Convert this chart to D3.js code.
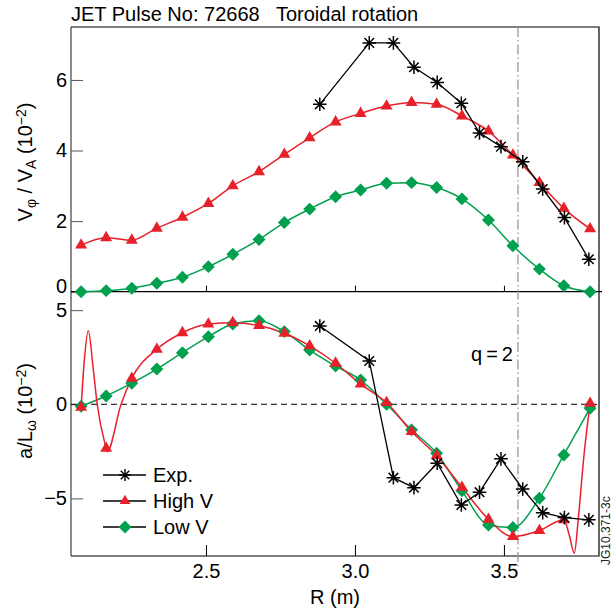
<!DOCTYPE html>
<html>
<head>
<meta charset="utf-8">
<script src="https://cdn.jsdelivr.net/npm/d3@7"></script>
<style>
  body { margin: 0; background: #fff; }
  svg { font-family: "Liberation Sans", Arial, Helvetica, sans-serif; }
</style>
</head>
<body>
<svg id="chart" width="611" height="613"></svg>
<script>
// model grid (m) and experimental radii (m)
const modelR = [2.081, 2.165, 2.251, 2.335, 2.421, 2.508, 2.590, 2.678, 2.763, 2.848, 2.935,
                3.019, 3.106, 3.190, 3.274, 3.359, 3.448, 3.530, 3.619, 3.701, 3.789];
const expR = [2.882, 3.048, 3.129, 3.198, 3.276, 3.357, 3.418, 3.490, 3.563, 3.630, 3.703, 3.785];

// top panel: V_phi / V_A (10^-2)
const topExp  = [5.31, 7.05, 7.05, 6.36, 5.93, 5.34, 4.50, 4.11, 3.68, 2.91, 2.10, 0.92];
const topHigh = [1.32, 1.53, 1.46, 1.80, 2.11, 2.50, 3.00, 3.40, 3.89, 4.36, 4.81,
                 5.05, 5.26, 5.36, 5.31, 4.98, 4.55, 3.87, 3.09, 2.36, 1.78];
const topLow  = [0.00, 0.03, 0.10, 0.24, 0.41, 0.71, 1.06, 1.48, 1.96, 2.34, 2.69,
                 2.88, 3.07, 3.09, 2.95, 2.63, 2.03, 1.30, 0.64, 0.17, 0.00];

// bottom panel: a/L_omega (10^-2)
const botExp  = [4.16, 2.30, -3.90, -4.43, -3.13, -5.35, -4.67, -2.90, -4.50, -5.76, -6.02, -6.14];
const botHigh = [-0.16, -2.34, 1.38, 2.92, 3.80, 4.26, 4.33, 4.18, 3.77, 3.10, 2.18,
                 1.07, 0.09, -1.45, -2.73, -4.41, -6.11, -7.03, -6.71, -6.14, 0.05];
const botLow  = [-0.10, 0.44, 1.12, 1.87, 2.74, 3.59, 4.26, 4.44, 3.86, 2.88, 2.03,
                 1.29, 0.00, -1.36, -2.60, -4.60, -6.41, -6.55, -4.99, -2.69, -0.21];
const botHighExtraR = [2.091, 2.105, 2.122, 2.135, 2.168, 2.215, 3.720, 3.736, 3.750, 3.768];
const botHighExtraV = [2.20, 3.91, 1.82, 0.00, -2.52, 0.00, -7.00, -7.91, -6.00, -2.80];

const xTicks = [2.5, 3.0, 3.5];
const topTicks = [0, 2, 4, 6];
const botTicks = [-5, 0, 5];
const qRadius = 3.547;

const red = "#e8202a", green = "#00a04f";

const svg = d3.select("#chart");
const padL = 71, padR = 599, padT = 27, padMid = 291.7, padB = 556;

const x = d3.scaleLinear().domain([2.047, 3.819]).range([padL, padR]);
const yTop = d3.scaleLinear().domain([0, 7.5]).range([padMid, padT]);
const yBot = d3.scaleLinear().domain([-8.06, 5.98]).range([padB, padMid]);

const pts = (rs, vs) => rs.map((r, i) => [r, vs[i]]);

// title
svg.append("text")
    .attr("x", padL).attr("y", 21)
    .style("font-size", "20px")
    .style("white-space", "pre")
    .text("JET Pulse No: 72668   Toroidal rotation");

// axes (ticks inside)
function yAxis(scale, ticks) {
    let g = svg.append("g")
        .attr("transform", `translate(${padL},0)`)
        .call(d3.axisLeft(scale).tickValues(ticks).tickSizeInner(-12).tickSizeOuter(0).tickPadding(4)
            .tickFormat(d => d < 0 ? "\u2212" + Math.abs(d) : d));
    g.select(".domain").remove();
    g.selectAll(".tick line").attr("stroke", "#555");
    g.selectAll(".tick text").style("font-size", "20px").attr("fill", "#000");
    return g;
}
let yt = yAxis(yTop, topTicks);
yt.selectAll(".tick text").filter(d => d === 0).attr("y", -6);
yAxis(yBot, botTicks);

let xb = svg.append("g")
    .attr("transform", `translate(0,${padB})`)
    .call(d3.axisBottom(x).tickValues(xTicks).tickSizeInner(-11).tickSizeOuter(0).tickPadding(8)
        .tickFormat(d3.format(".1f")));
xb.select(".domain").remove();
xb.selectAll(".tick text").style("font-size", "20px").attr("fill", "#000");

let xm = svg.append("g")
    .attr("transform", `translate(0,${padMid})`)
    .call(d3.axisBottom(x).tickValues(xTicks).tickSizeInner(-6).tickSizeOuter(0).tickFormat(""));
xm.select(".domain").remove();

// frame
svg.append("line").attr("x1", padL).attr("x2", padL).attr("y1", padT).attr("y2", padB)
    .attr("stroke", "#666").attr("stroke-width", 1.5);
svg.append("path")
    .attr("d", `M${padL},${padT}H${padR}V${padB}H${padL}M${padL},${padMid}H${padR + 3}`)
    .attr("fill", "none").attr("stroke", "#000").attr("stroke-width", 1.2);

// zero line, q=2 line
svg.append("line")
    .attr("x1", padL).attr("x2", padR).attr("y1", yBot(0)).attr("y2", yBot(0))
    .attr("stroke", "#000").attr("stroke-width", 1).attr("stroke-dasharray", "6,4");
svg.append("line")
    .attr("x1", x(qRadius)).attr("x2", x(qRadius)).attr("y1", padT).attr("y2", padB + 13)
    .attr("stroke", "#999").attr("stroke-width", 1.3).attr("stroke-dasharray", "10,3,1.5,3");
svg.append("text")
    .attr("x", 471).attr("y", 361)
    .style("font-size", "20px")
    .text("q\u2009=\u20092");

// markers
const starPath = (r) => [0, 45, 90, 135].map(a => {
    let c = Math.cos(a * Math.PI / 180) * r, s = Math.sin(a * Math.PI / 180) * r;
    return `M${-c},${-s}L${c},${s}`;
}).join("");
const triPath = d3.symbol(d3.symbolTriangle, 62)();
const diaPath = d3.symbol(d3.symbolSquare, 84)();

function drawMarkers(data, scale, kind) {
    let g = svg.append("g");
    let m = g.selectAll("path").data(data).join("path");
    if (kind === "star") {
        m.attr("d", starPath(6.8)).attr("stroke", "#000").attr("stroke-width", 1.5).attr("fill", "none")
            .attr("transform", d => `translate(${x(d[0])},${scale(d[1])})`);
    } else if (kind === "tri") {
        m.attr("d", triPath).attr("fill", red)
            .attr("transform", d => `translate(${x(d[0])},${scale(d[1])})`);
    } else {
        m.attr("d", diaPath).attr("fill", green)
            .attr("transform", d => `translate(${x(d[0])},${scale(d[1])}) rotate(45)`);
    }
}

function drawLine(data, scale, color, curve, width) {
    svg.append("path")
        .datum(data)
        .attr("fill", "none")
        .attr("stroke", color)
        .attr("stroke-width", width)
        .attr("d", d3.line().x(d => x(d[0])).y(d => scale(d[1])).curve(curve));
}

// top panel
drawLine(pts(modelR, topLow), yTop, green, d3.curveMonotoneX, 1.5);
drawLine(pts(modelR, topHigh), yTop, red, d3.curveMonotoneX, 1.5);
drawMarkers(pts(modelR, topLow), yTop, "dia");
drawMarkers(pts(modelR, topHigh), yTop, "tri");
drawLine(pts(expR, topExp), yTop, "#000", d3.curveLinear, 1.3);
drawMarkers(pts(expR, topExp), yTop, "star");

// bottom panel
let highFine = pts(modelR, botHigh).concat(pts(botHighExtraR, botHighExtraV))
    .sort((a, b) => a[0] - b[0]);
drawLine(pts(modelR, botLow), yBot, green, d3.curveMonotoneX, 1.5);
drawLine(highFine, yBot, red, d3.curveMonotoneX, 1.5);
drawMarkers(pts(modelR, botLow), yBot, "dia");
drawMarkers(pts(modelR, botHigh), yBot, "tri");
drawLine(pts(expR, botExp), yBot, "#000", d3.curveLinear, 1.3);
drawMarkers(pts(expR, botExp), yBot, "star");

// legend (black lines, coloured markers)
const legendItems = [["Exp.", "star"], ["High V", "tri"], ["Low V", "dia"]];
legendItems.forEach((d, i) => {
    let cy = 475 + i * 26;
    svg.append("line").attr("x1", 103).attr("x2", 146).attr("y1", cy).attr("y2", cy)
        .attr("stroke", "#000").attr("stroke-width", 1.3);
    let m = svg.append("path");
    if (d[1] === "star") m.attr("d", starPath(6)).attr("stroke", "#000").attr("stroke-width", 1.4)
        .attr("transform", `translate(125,${cy})`);
    else if (d[1] === "tri") m.attr("d", d3.symbol(d3.symbolTriangle, 50)()).attr("fill", red)
        .attr("transform", `translate(125,${cy})`);
    else m.attr("d", diaPath).attr("fill", green).attr("transform", `translate(125,${cy}) rotate(45)`);
    svg.append("text").attr("x", 153).attr("y", cy + 7).style("font-size", "20px").text(d[0]);
});

// axis titles
svg.append("text")
    .attr("x", 335).attr("y", 604)
    .attr("text-anchor", "middle")
    .style("font-size", "20px")
    .text("R (m)");

let t1 = svg.append("text")
    .attr("transform", `translate(32,162) rotate(-90)`)
    .attr("text-anchor", "middle")
    .style("font-size", "20px");
t1.append("tspan").text("V");
t1.append("tspan").attr("baseline-shift", "-30%").style("font-size", "14px").text("\u03c6");
t1.append("tspan").text(" / V");
t1.append("tspan").attr("baseline-shift", "-30%").style("font-size", "14px").text("A");
t1.append("tspan").text(" (10");
t1.append("tspan").attr("baseline-shift", "40%").style("font-size", "14px").text("\u22122");
t1.append("tspan").text(")");

let t2 = svg.append("text")
    .attr("transform", `translate(32,411) rotate(-90)`)
    .attr("text-anchor", "middle")
    .style("font-size", "20px");
t2.append("tspan").text("a/L");
t2.append("tspan").attr("baseline-shift", "-30%").style("font-size", "14px").text("\u03c9");
t2.append("tspan").text(" (10");
t2.append("tspan").attr("baseline-shift", "40%").style("font-size", "14px").text("\u22122");
t2.append("tspan").text(")");

// figure id
svg.append("text")
    .attr("transform", `translate(609.5,565) rotate(-90)`)
    .style("font-size", "12px")
    .attr("fill", "#222")
    .text("JG10.371-3c");
</script>
</body>
</html>
